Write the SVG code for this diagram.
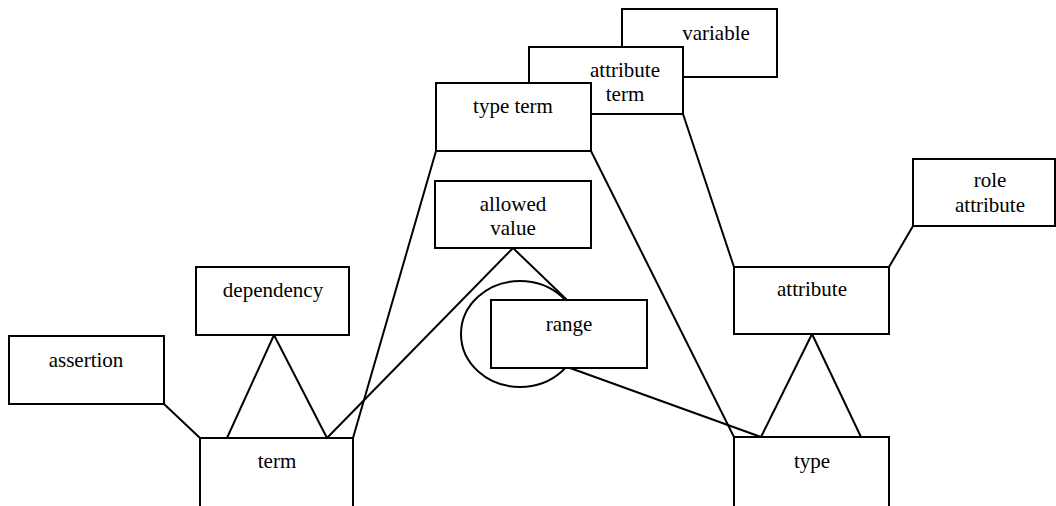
<svg xmlns="http://www.w3.org/2000/svg" width="1056" height="506" viewBox="0 0 1056 506">
<style>
.box{fill:#fff;stroke:#000;stroke-width:2}
.ln{stroke:#000;stroke-width:2;fill:none}
text{font-family:"Liberation Serif","Times New Roman",serif;font-size:21px;fill:#000;text-anchor:middle}
</style>
<rect width="1056" height="506" fill="#fff"/>
<g id="connectors">
<line class="ln" x1="164" y1="404" x2="200" y2="438"/>
<line class="ln" x1="274" y1="335" x2="227" y2="438"/>
<line class="ln" x1="274" y1="335" x2="327" y2="438"/>
<line class="ln" x1="327" y1="438" x2="513" y2="248"/>
<line class="ln" x1="353" y1="438" x2="436" y2="151"/>
<line class="ln" x1="513" y1="248" x2="567" y2="300"/>
<line class="ln" x1="591" y1="151" x2="734" y2="437"/>
<line class="ln" x1="683" y1="114" x2="734" y2="267"/>
<line class="ln" x1="913" y1="226" x2="889" y2="267"/>
<line class="ln" x1="812" y1="334" x2="761" y2="437"/>
<line class="ln" x1="812" y1="334" x2="861" y2="437"/>
<line class="ln" x1="570" y1="368" x2="761" y2="437"/>
</g>
<g id="variable"><rect class="box" x="622" y="9" width="155" height="68"/><text x="716" y="40">variable</text></g>
<g id="attribute-term"><rect class="box" x="529" y="47" width="154" height="67"/><text x="625" y="77">attribute</text><text x="625" y="101">term</text></g>
<g id="type-term"><rect class="box" x="436" y="83" width="155" height="68"/><text x="513" y="113">type term</text></g>
<g id="allowed-value"><rect class="box" x="435" y="181" width="156" height="67"/><text x="513" y="211">allowed</text><text x="513" y="235">value</text></g>
<g id="range"><ellipse class="ln" cx="520" cy="334" rx="59" ry="53"/><rect class="box" x="491" y="300" width="156" height="68"/><text x="569" y="331">range</text></g>
<g id="dependency"><rect class="box" x="196" y="267" width="153" height="68"/><text x="273" y="297">dependency</text></g>
<g id="assertion"><rect class="box" x="9" y="336" width="155" height="68"/><text x="86" y="367">assertion</text></g>
<g id="term"><rect class="box" x="200" y="438" width="153" height="75"/><text x="277" y="468">term</text></g>
<g id="role-attribute"><rect class="box" x="913" y="159" width="142" height="67"/><text x="990" y="187">role</text><text x="990" y="212">attribute</text></g>
<g id="attribute"><rect class="box" x="734" y="267" width="155" height="67"/><text x="812" y="296">attribute</text></g>
<g id="type"><rect class="box" x="734" y="437" width="155" height="76"/><text x="812" y="468">type</text></g>
</svg>
